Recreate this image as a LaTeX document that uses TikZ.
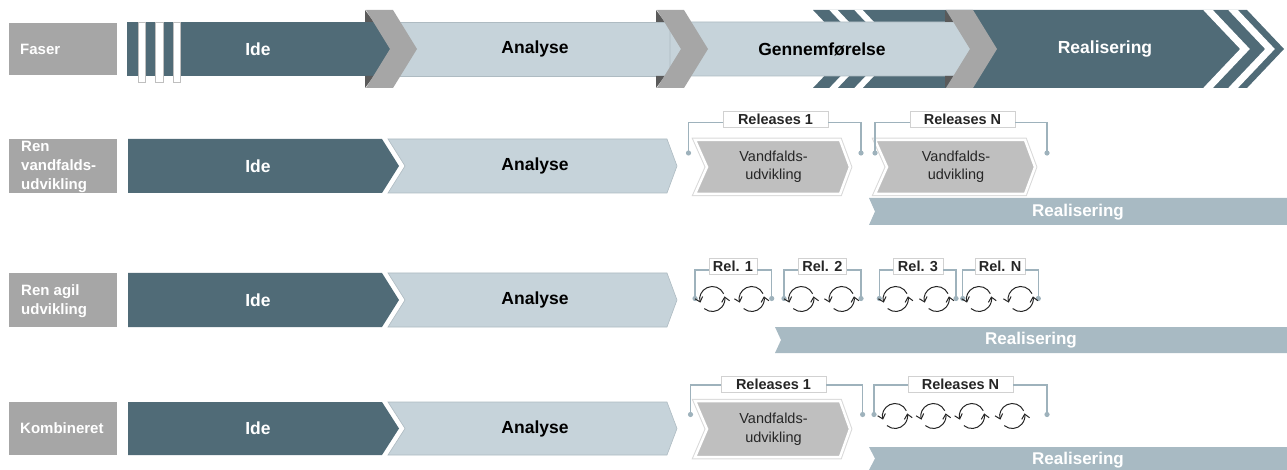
\documentclass[tikz,border=0pt]{standalone}
\usepackage{fontspec}
\setmainfont{Liberation Sans}
\usetikzlibrary{arrows.meta}
\definecolor{cDark}{HTML}{506B77}
\definecolor{cLight}{HTML}{C6D3DA}
\definecolor{cLightEdge}{HTML}{AEBBC2}
\definecolor{cGray}{HTML}{A6A6A6}
\definecolor{cTri}{HTML}{5A5A5A}
\definecolor{cChev}{HTML}{BFBFBF}
\definecolor{cReal}{HTML}{A8BAC3}
\definecolor{cBracket}{HTML}{9EB2BC}
\definecolor{cText}{HTML}{262626}
\newcommand\myBaseRow[4]{%
  \fill[cLight,draw=cLightEdge,line width=0.6] (388,#1) -- (667,#1) -- (677,#2) -- (667,#3) -- (388,#3) -- (405,#2) -- cycle;
  \fill[cDark] (128,#1) -- (382,#1) -- (399,#2) -- (382,#3) -- (128,#3) -- cycle;
  \node[phase,text=white] (#4ide) at (258,#2) {Ide};
  \node[phase,text=black] (#4ana) at (535,#2) {Analyse};
}
\newcommand\myWChev[5]{%
  \path[draw=black!15,line width=4.5] (#1,#2) -- (#3,#2) -- ({#3+10},{(#2+#4)/2}) -- (#3,#4) -- (#1,#4) -- ({#1+12},{(#2+#4)/2}) -- cycle;
  \path[fill=cChev,draw=white,line width=2.5] (#1,#2) -- (#3,#2) -- ({#3+10},{(#2+#4)/2}) -- (#3,#4) -- (#1,#4) -- ({#1+12},{(#2+#4)/2}) -- cycle;
  \node[wtxt] (#5) at ({(#1+#3)/2+6},{(#2+#4)/2}) {Vandfalds-\\udvikling};
}
\newcommand\myRealBar[5]{%
  \fill[cReal] (#1,#2) -- (1287,#2) -- (1287,#3) -- (#1,#3) -- ({#1+6},{(#2+#3)/2}) -- cycle;
  \node[realtxt] (#5) at ({(#1+1287)/2},#4) {Realisering};
}
% #1 name, #2 xL, #3 xR, #4 ydot, #5 yline, #6 box x, #7 box y, #8 label, #9 width
\newcommand\myBracket[9]{%
  \node[relbox,minimum width=#9] (#1) at (#6,#7) {#8};
  \coordinate (#1L) at (#2,#4);
  \coordinate (#1R) at (#3,#4);
  \coordinate (#1Y) at (#2,#5);
  \draw[brk] (#1L) -- (#1Y) -- (#1Y -| #1.west);
  \draw[brk] (#1Y -| #1.east) -| (#1R);
  \fill[cBracket] (#1L) circle (2.6);
  \fill[cBracket] (#1R) circle (2.6);
}
\newcommand\myCyc[2]{%
  \draw[cyc] (#1,#2) ++(-25:12.5) arc (-25:-197:12.5);
  \draw[cyc] (#1,#2) ++(130:12.5) arc (130:-12:12.5);
}
\newcommand\myPhaseChev[1]{%
  \fill[cTri] (#1,10) -- ({#1+9},22) -- (#1,22) -- cycle;
  \fill[cTri] (#1,88) -- ({#1+9},76) -- (#1,76) -- cycle;
  \fill[cGray] ({#1+1},10) -- ({#1+28},10) -- ({#1+52},49) -- ({#1+28},88) -- ({#1+1},88) -- ({#1+25},49) -- cycle;
}
\begin{document}
\begin{tikzpicture}[x=1pt,y=-1pt,
  lbl/.style={font=\fontsize{15}{19}\selectfont\bfseries,text=white,align=left,anchor=west,inner sep=0},
  phase/.style={font=\fontsize{17.5}{20}\selectfont\bfseries,inner sep=0},
  wtxt/.style={font=\fontsize{14.5}{18.5}\selectfont,text=cText,align=center,inner sep=0},
  realtxt/.style={font=\fontsize{17}{19}\selectfont\bfseries,text=white,inner sep=0},
  relbox/.style={draw=black!18,fill=white,line width=0.6,font=\fontsize{14.5}{16}\selectfont\bfseries,text=cText,minimum height=16.5,inner sep=0},
  brk/.style={draw=cBracket,line width=1.4},
  cyc/.style={draw=black!85,line width=1,-{Straight Barb[length=4.5pt,width=8pt]}}]
\useasboundingbox (0,0) rectangle (1287,470);
% ---------- row 1: Faser ----------
\fill[cGray] (9,23) rectangle (117,75);
\node[lbl] (faser) at (20,49) {Faser};
\begin{scope}
  \clip (813,10) -- (1247,10) -- (1284,49) -- (1247,88) -- (813,88) -- (850,49) -- cycle;
  \fill[cDark] (800,0) rectangle (1287,100);
  \draw[white,line width=6] (831.6,8) -- (870.5,49) -- (831.6,90);
  \draw[white,line width=6] (856.6,8) -- (895.5,49) -- (856.6,90);
  \draw[white,line width=7] (1206.1,8) -- (1245,49) -- (1206.1,90);
  \draw[white,line width=7] (1231.1,8) -- (1270,49) -- (1231.1,90);
\end{scope}
\fill[cLight,draw=cLightEdge,line width=0.6] (380,22) rectangle (680,76);
\fill[cLight,draw=cLightEdge,line width=0.6] (670,22) -- (955,22) -- (972,49) -- (955,76) -- (670,76) -- cycle;
\fill[cDark] (127,22) rectangle (392,76);
\foreach \sx in {138,155.5,173}{
  \filldraw[fill=white,draw=black!25,line width=0.5] (\sx,22) rectangle ({\sx+7.5},82);
}
\myPhaseChev{365}
\myPhaseChev{656}
\myPhaseChev{945}
\node[phase,text=white] (p1ide) at (258,49) {Ide};
\node[phase,text=black] (p1ana) at (535,49) {Analyse};
\node[phase,text=black] (p1gen) at (822,49) {Gennemførelse};
\node[phase,text=white] (p1real) at (1105,49) {Realisering};
% ---------- row 2: Ren vandfaldsudvikling ----------
\fill[cGray] (9,139) rectangle (117,193);
\node[lbl] (renvand) at (21,167) {Ren\\vandfalds-\\udvikling};
\myBaseRow{139}{166}{193}{r2}
\myRealBar{869}{198}{225}{212}{r2real}
\myWChev{695}{140}{840}{194}{r2va}
\myWChev{875}{140}{1025}{194}{r2vb}
\myBracket{r2a}{688.5}{861}{153}{122.5}{775.5}{119.5}{Releases 1}{105}
\myBracket{r2b}{875}{1047}{153}{122.5}{962.5}{119.5}{Releases N}{105}
% ---------- row 3: Ren agil udvikling ----------
\fill[cGray] (9,273) rectangle (117,327);
\node[lbl] (renagil) at (21,301) {Ren agil\\udvikling};
\myBaseRow{273}{300}{327}{r3}
\myRealBar{775}{327}{353}{340}{r3real}
\myBracket{r3a}{695}{771.7}{298.5}{270}{733}{266.3}{Rel. 1}{48}
\myBracket{r3b}{784}{861}{298.5}{270}{822.3}{266.3}{Rel. 2}{48}
\myBracket{r3c}{879.3}{956}{298.5}{270}{918}{266.3}{Rel. 3}{50}
\myBracket{r3d}{962.7}{1038.3}{298.5}{270}{1000}{266.3}{Rel. N}{50}
\foreach \cx in {712.3,751.7,801.3,841.7,895.7,936.7,979,1020.7}{
  \myCyc{\cx}{299}
}
% ---------- row 4: Kombineret ----------
\fill[cGray] (9,402) rectangle (117,455);
\node[lbl] (komb) at (20,428) {Kombineret};
\myBaseRow{402}{428.5}{455}{r4}
\myRealBar{869}{447}{470}{460}{r4real}
\myWChev{695}{401}{840}{457}{r4va}
\myBracket{r4a}{690.5}{862.6}{414.5}{385}{773.5}{384.5}{Releases 1}{105}
\myBracket{r4b}{874}{1047}{414.5}{385}{960.5}{384.5}{Releases N}{105}
\foreach \cx in {895,933.4,971.9,1012.3}{
  \myCyc{\cx}{416}
}
\end{tikzpicture}
\end{document}
